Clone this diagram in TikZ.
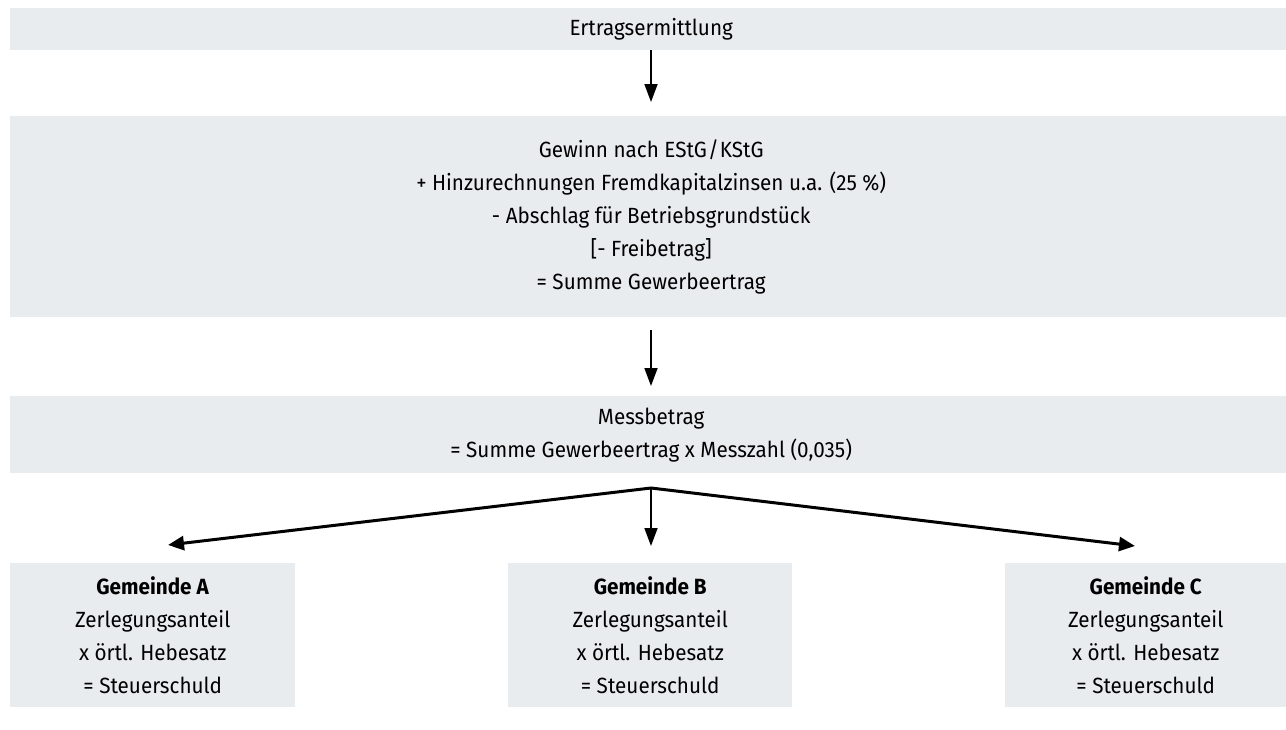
\documentclass[tikz,border=0pt]{standalone}
\usepackage{fontspec}
\setmainfont{Fira Sans}[FakeStretch=0.94]
\usetikzlibrary{arrows.meta}
\definecolor{boxfill}{HTML}{E9ECEF}
\begin{document}
\begin{tikzpicture}[x=1pt,y=-1pt,
  box/.style={fill=boxfill, inner sep=0pt, align=center, anchor=north west,
    font=\fontsize{22}{33}\selectfont},
  arr/.style={line width=1.8pt, -{Triangle[length=18pt,width=13pt]}},
  thick arr/.style={line width=3pt, -{Triangle[length=16pt,width=14pt]}}]
\useasboundingbox (0,0) rectangle (1286,729);
\node[box, minimum width=1282pt, minimum height=42pt] (e) at (10,8) {\strut Ertragsermittlung};
\node[box, minimum width=1282pt, minimum height=201pt] (g) at (10,116) {Gewinn nach EStG\kern1pt/\kern1ptKStG\\
+ Hinzurechnungen Fremdkapitalzinsen u.a. (25 \%)\\
- Abschlag für Betriebsgrundstück\\
{[}- Freibetrag{]}\\
= Summe Gewerbeertrag};
\node[box, minimum width=1282pt, minimum height=77pt] (m) at (10,396) {Messbetrag\\= Summe Gewerbeertrag x Messzahl (0,035)};
\node[box, minimum width=285pt, minimum height=144pt] (a) at (10,563) {\textbf{Gemeinde A}\\Zerlegungsanteil\\x örtl. Hebesatz\\= Steuerschuld};
\node[box, minimum width=284pt, minimum height=144pt] (b) at (508,563) {\textbf{Gemeinde B}\\Zerlegungsanteil\\x örtl. Hebesatz\\= Steuerschuld};
\node[box, minimum width=281pt, minimum height=144pt] (c) at (1005,563) {\textbf{Gemeinde C}\\Zerlegungsanteil\\x örtl. Hebesatz\\= Steuerschuld};
\coordinate (ax) at (651,0);
\coordinate (split) at (651,488);
\coordinate (la) at (168,545);
\coordinate (lb) at (651,546);
\coordinate (lc) at (1135,546);
\draw[arr, shorten >=14pt] (e.south -| ax) -- (g.north -| ax);
\draw[arr, shorten <=13pt, shorten >=10pt] (g.south -| ax) -- (m.north -| ax);
\draw[arr] (split) -- (lb);
\draw[thick arr] (split) -- (la);
\draw[thick arr] (split) -- (lc);
\end{tikzpicture}
\end{document}
